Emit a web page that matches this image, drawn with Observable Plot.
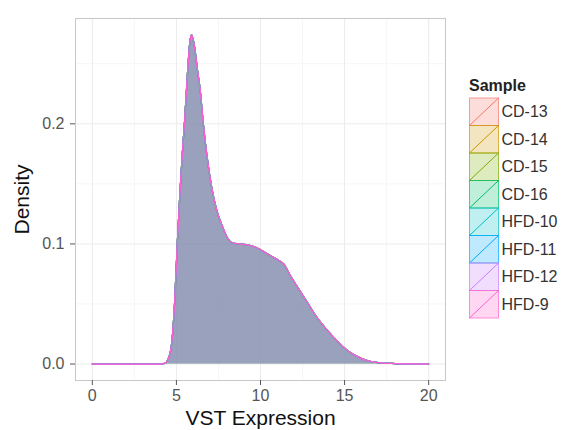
<!DOCTYPE html>
<html><head><meta charset="utf-8">
<script src="https://cdn.jsdelivr.net/npm/d3@7"></script>
<script src="https://cdn.jsdelivr.net/npm/@observablehq/plot@0.6"></script>
<style>body{margin:0;background:#fff}</style>
</head><body><div id="chart"></div>
<script>
const samples = ["CD-13","CD-14","CD-15","CD-16","HFD-10","HFD-11","HFD-12","HFD-9"];
const sampleColors = ["#F8766D","#CD9600","#7CAE00","#00BE67","#00BFC4","#00A9FF","#C77CFF","#FF61CC"];
const vst = [0,1,2,3,4,4.3,4.5,4.7,4.9,5.05,5.2,5.35,5.5,5.65,5.8,5.9,6.0,6.1,6.25,6.4,6.6,6.8,7.1,7.4,7.7,8.0,8.3,8.7,9.3,9.9,10.5,11.0,11.4,11.8,12.3,12.8,13.3,13.8,14.3,14.8,15.3,15.8,16.3,17,18,19,20];
const density = [0,0,0,0,0,0.0005,0.004,0.015,0.053,0.1,0.14,0.175,0.205,0.24,0.268,0.274,0.27,0.262,0.245,0.23,0.2,0.175,0.147,0.128,0.116,0.106,0.101,0.1,0.099,0.096,0.091,0.087,0.083,0.073,0.062,0.051,0.04,0.031,0.023,0.016,0.01,0.006,0.003,0.0012,0.0004,0.0001,0];
const xTicks = [0,5,10,15,20];
const xMinor = [2.5,7.5,12.5,17.5];
const yTicks = [0,0.1,0.2];
const yMinor = [0.05,0.15,0.25];

const rows = [];
samples.forEach(s => vst.forEach((v,i) => rows.push({sample: s, vst: v, density: density[i]})));

const font = "'Liberation Sans', Arial, Helvetica, sans-serif";
const chart = Plot.plot({
  width: 569, height: 430,
  marginLeft: 75, marginRight: 124, marginTop: 18, marginBottom: 50,
  style: {fontFamily: font, background: "#fff"},
  x: {domain: [-1, 21]},
  y: {domain: [-0.0137, 0.2877]},
  color: {domain: samples, range: sampleColors},
  marks: [
    Plot.ruleX(xMinor, {stroke: "#f6f6f6"}),
    Plot.ruleY(yMinor, {stroke: "#f6f6f6"}),
    Plot.ruleX(xTicks, {stroke: "#ebebeb"}),
    Plot.ruleY(yTicks, {stroke: "#ebebeb"}),
    Plot.area(rows, {x1: "vst", y1: () => 0, y2: "density", z: "sample", fill: "sample", fillOpacity: 0.2, curve: "monotone-x"}),
    Plot.line(rows, {x: "vst", y: "density", z: "sample", stroke: "sample", strokeWidth: 1.2, curve: "monotone-x"}),
    Plot.frame({stroke: "#c8c8c8"}),
    Plot.axisX({ticks: xTicks, tickSize: 5, tickPadding: 4, fontSize: 16, color: "#555", label: null}),
    Plot.axisY({ticks: yTicks, tickSize: 5, tickPadding: 6, fontSize: 16, color: "#555", tickFormat: d3.format(".1f"), label: null}),
    Plot.text(["VST Expression"], {frameAnchor: "bottom", dy: 38, lineAnchor: "middle", textAnchor: "middle", fontSize: 21, fill: "#111"}),
    Plot.text(["Density"], {frameAnchor: "left", dx: -53, rotate: -90, lineAnchor: "middle", textAnchor: "middle", fontSize: 21, fill: "#111"})
  ]
});

const color = chart.scale("color");
const svg = d3.select(chart);
const lg = svg.append("g").attr("font-family", font).attr("text-anchor", "start");
lg.append("text").attr("x", 469).attr("y", 85).attr("dy", "0.35em")
  .attr("font-weight", "bold").attr("font-size", 16).attr("fill", "#222").text("Sample");
const keyW = 29, keyH = 27.5, keyX = 469.5, keyY = 98;
samples.forEach((s, i) => {
  const y0 = keyY + i * keyH;
  const c = color.apply(s);
  lg.append("rect").attr("x", keyX).attr("y", y0).attr("width", keyW).attr("height", keyH)
    .attr("fill", c).attr("fill-opacity", 0.25).attr("stroke", c).attr("stroke-opacity", 0.7);
  lg.append("line").attr("x1", keyX).attr("y1", y0 + keyH).attr("x2", keyX + keyW).attr("y2", y0)
    .attr("stroke", c).attr("stroke-width", 1);
  lg.append("text").attr("x", keyX + keyW + 3).attr("y", y0 + keyH / 2).attr("dy", "0.35em")
    .attr("font-size", 16).attr("fill", "#333").text(s);
});

document.getElementById("chart").appendChild(chart);
</script>
</body></html>
